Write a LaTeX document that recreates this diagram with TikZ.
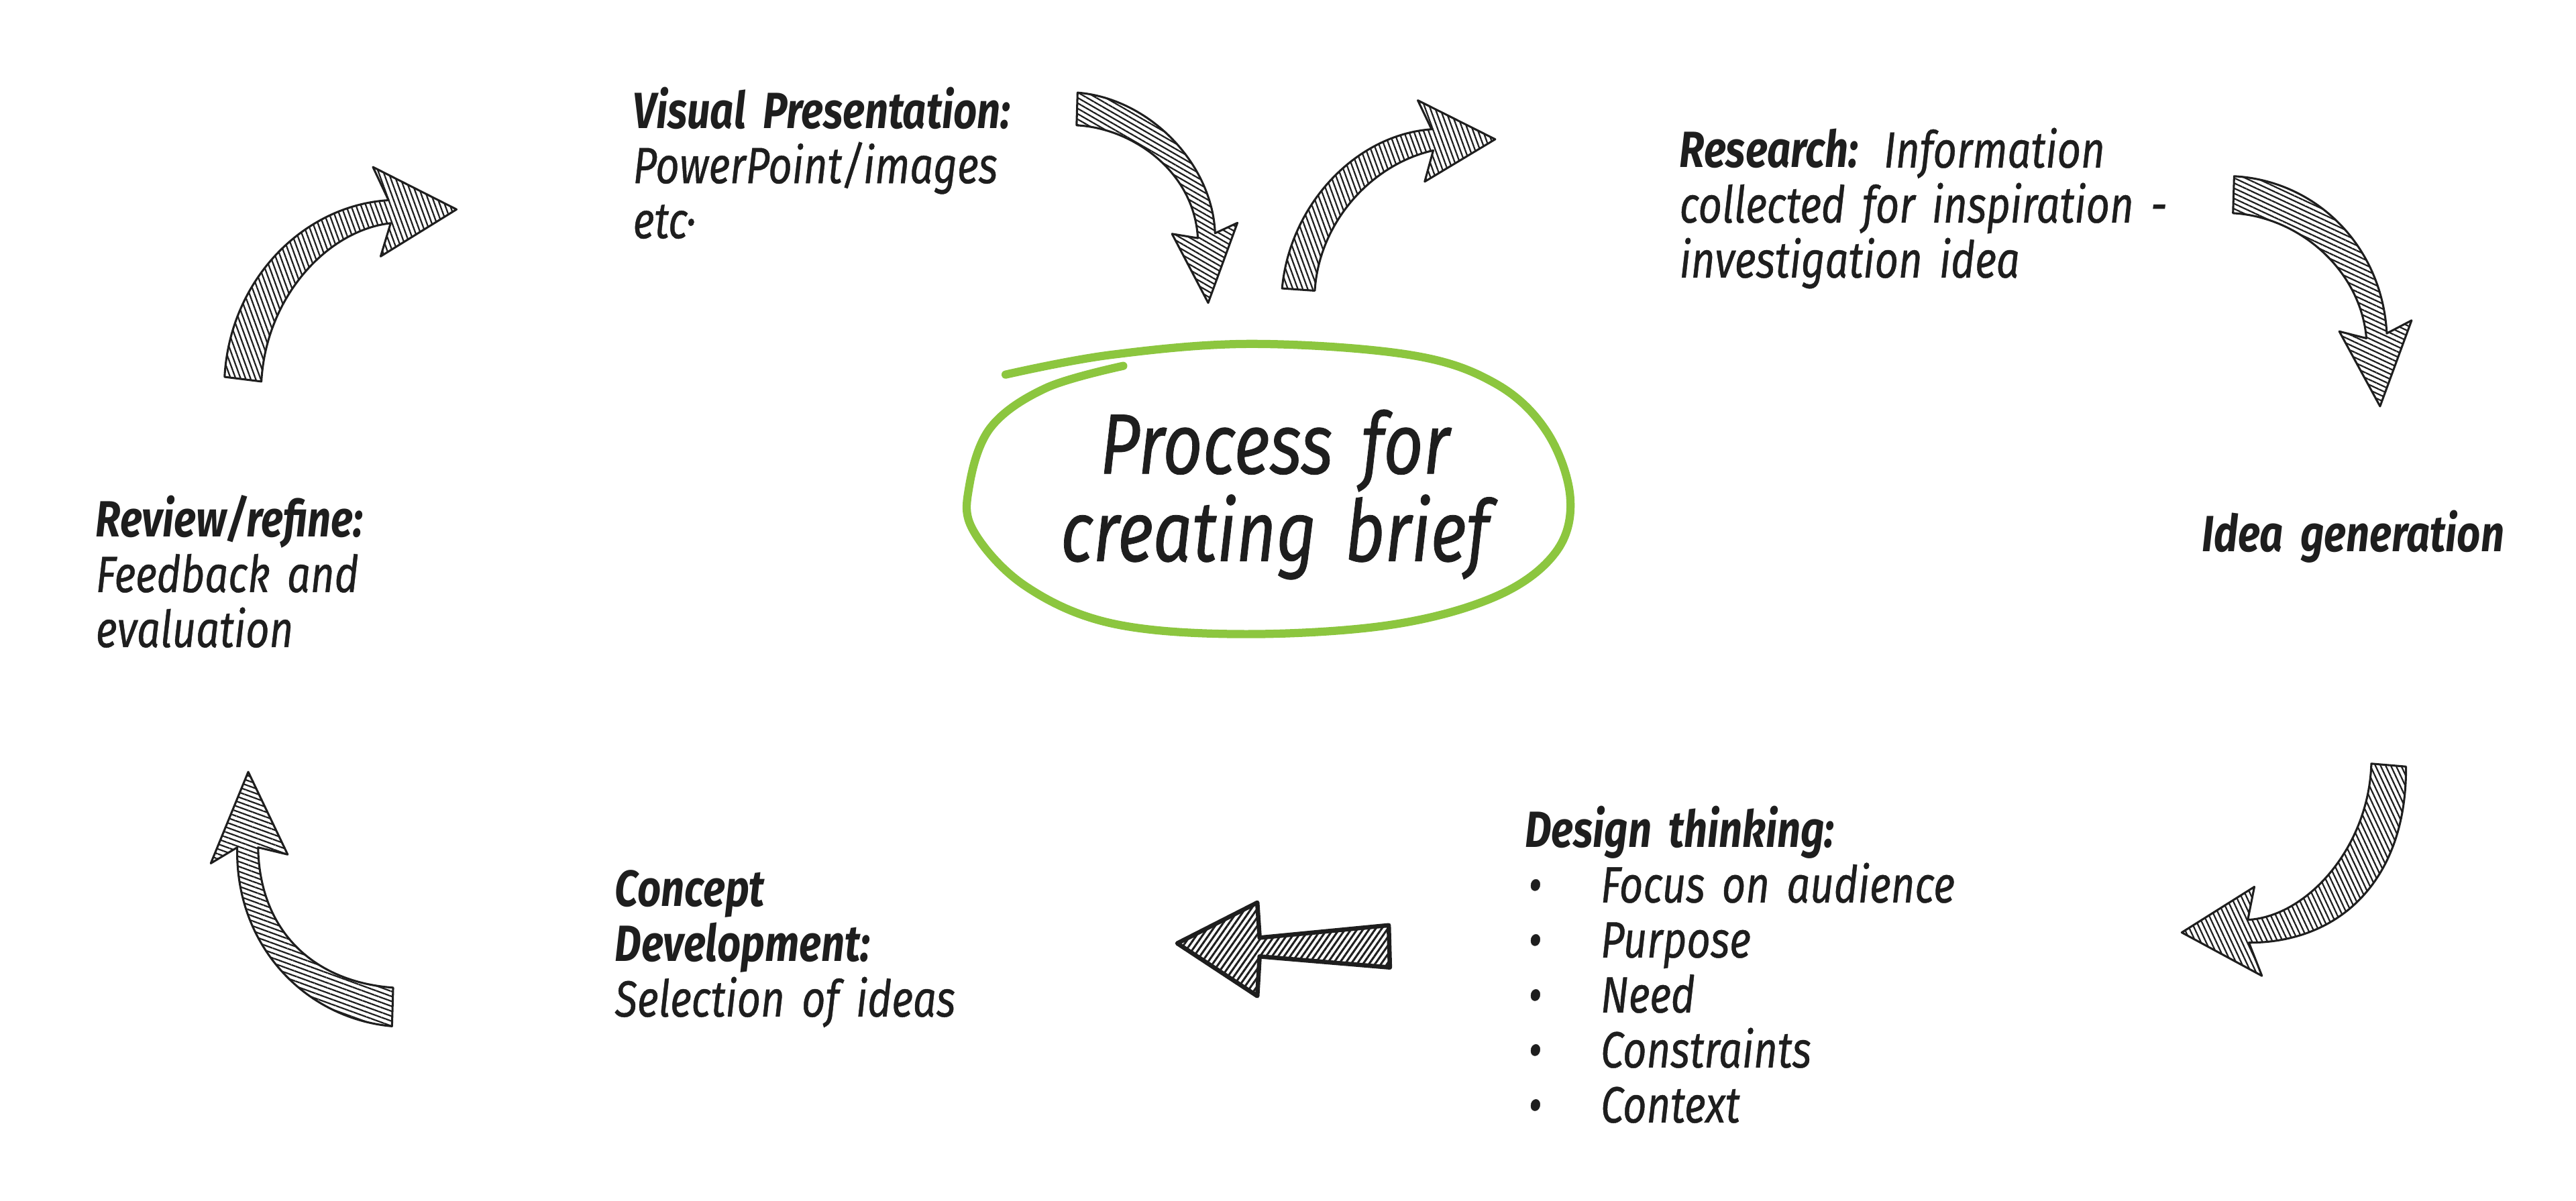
\documentclass[tikz,border=0pt]{standalone}
\usepackage{fontspec}
\setmainfont{Fira Sans}[FakeStretch=0.81, ItalicFeatures={FakeBold=0.6}]
\usetikzlibrary{patterns.meta}
\definecolor{ink}{HTML}{1E1E1E}
\definecolor{leaf}{HTML}{8CC63F}
\newcommand\dtbul{\hspace*{1.2pt}\makebox[26.4pt][l]{•}}
\begin{document}
\begin{tikzpicture}[x=0.6pt,y=-0.6pt,
  lbl/.style={anchor=base west, inner sep=0pt, text width=300pt, align=left,
    font=\fontsize{18.6}{20.1}\selectfont\itshape, text=ink},
  ttl/.style={anchor=base, inner sep=0pt, text width=260pt, align=center,
    font=\fontsize{31.2}{25.7}\selectfont\itshape\addfontfeatures{FakeBold=1.6}, text=ink},
  hatch/.style={pattern={Lines[angle=#1,distance=1.7pt,line width=0.55pt]},
    pattern color=ink, draw=ink, line width=0.75pt, line join=round},
  ring/.style={draw=leaf, line width=3pt, line cap=round, line join=round}
]
\useasboundingbox (0,0) rectangle (1568,731);

% central ring
\draw[ring] plot[smooth, tension=0.6] coordinates {
 (612.1,228.1) (675.9,216.1) (761.8,209.4) (858.2,216.1) (910.2,233.5)
 (941.5,262.9) (955.8,303.1) (946.7,336.6) (910.2,363.3) (845.1,380.7)
 (754,386.1) (675.9,379.4) (623.8,356.6) (592.5,323.2) (589.9,296.4)
 (603,260.3) (636.8,236.2) (683.7,222.8)};
\node[ttl] (title) at (776,288.4) {Process for\\creating brief};

% arrows
\path[hatch=-30] (655.9,56.4) .. controls (700,60) and (738,100) .. (739.6,142)
  -- (753.2,135.7) -- (735.4,184.4) -- (713.4,142.4) -- (729.1,145)
  .. controls (727,105) and (690,78) .. (655.3,76.3) -- cycle;
\path[hatch=-70] (780.4,175.6) .. controls (785,125) and (825,82) .. (871.4,78.7)
  -- (863,61.1) -- (910.1,84.8) -- (867.2,110.6) -- (872.4,91.6)
  .. controls (835,100) and (803,135) .. (800.3,177) -- cycle;
\path[hatch=-70] (136.7,229.5) .. controls (140,170) and (185,125) .. (236.5,121.9)
  -- (227,101.7) -- (277.9,127.5) -- (231.7,156.1) -- (237.8,135.9)
  .. controls (200,140) and (162,180) .. (159.1,232.3) -- cycle;
\path[hatch=-25] (1359.9,107.3) .. controls (1410,110) and (1450,150) .. (1452.8,203)
  -- (1467.9,195.1) -- (1448.7,247.4) -- (1423.9,201.8) -- (1440.4,206)
  .. controls (1437,165) and (1400,132) .. (1359.2,129.8) -- cycle;
\path[hatch=-65] (1464.5,466.8) .. controls (1465,535) and (1425,574) .. (1368.9,574)
  -- (1376.8,594.2) -- (1328,567.8) -- (1372.2,540) -- (1368.2,560.1)
  .. controls (1405,558) and (1442,515) .. (1443.4,465) -- cycle;
\path[hatch=-20] (238.6,624.9) .. controls (185,620) and (143,575) .. (144.4,516)
  -- (128.3,525.7) -- (151.1,470) -- (175.1,520.3) -- (157.1,516)
  .. controls (158,568) and (192,598) .. (239.3,601.4) -- cycle;
\path[hatch=55, line width=1.6pt, pattern={Lines[angle=55,distance=1.8pt,line width=0.75pt]}]
  (716.6,574.4) -- (765.3,549.6) -- (766.7,571) -- (845.3,563.4) -- (846,589.1)
  -- (766.7,582.4) -- (765.3,606.5) -- cycle;

% labels
\node[lbl] (vis) at (385,78) {\textbf{Visual Presentation:}\\PowerPoint/images\\etc·};
\node[lbl] (res) at (1022,102) {\textbf{Research:} Information\\collected for inspiration -\\investigation idea};
\node[lbl] (idea) at (1340,336) {\textbf{Idea generation}};
\node[lbl] (des) at (928,516) {\textbf{Design thinking:}\\
  \dtbul Focus on audience\\\dtbul Purpose\\\dtbul Need\\\dtbul Constraints\\\dtbul Context};
\node[lbl] (con) at (374,552) {\textbf{Concept}\\\textbf{Development:}\\Selection of ideas};
\node[lbl] (rev) at (58,327) {\textbf{Review/refine:}\\Feedback and\\evaluation};
\end{tikzpicture}
\end{document}
